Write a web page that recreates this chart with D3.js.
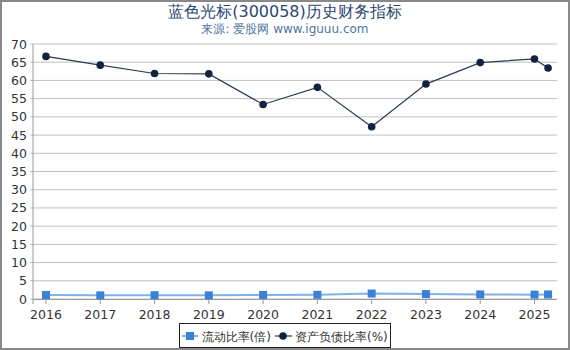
<!DOCTYPE html>
<html><head><meta charset="utf-8">
<script src="https://cdn.jsdelivr.net/npm/d3@7"></script>
<style>body{margin:0;background:#fff;font-family:"DejaVu Sans",sans-serif}</style>
</head><body><svg id="c" width="570" height="350"></svg>
<script>
const periods = [2016,2017,2018,2019,2020,2021,2022,2023,2024,2025,2025.25];
const currentRatio = [1.1,1.0,1.05,1.0,1.1,1.15,1.5,1.35,1.25,1.2,1.25];
const debtRatio = [66.6,64.2,61.9,61.8,53.4,58.1,47.3,59.0,64.9,65.9,63.4];
const xTicks = [2016,2017,2018,2019,2020,2021,2022,2023,2024,2025];
const yTicks = [0,5,10,15,20,25,30,35,40,45,50,55,60,65,70];

const svg = d3.select("#c");
const W=570,H=350;
svg.append("rect").attr("x",1).attr("y",1).attr("width",W-2).attr("height",H-2).attr("fill","#fff").attr("stroke","#888").attr("stroke-width",2);

svg.append("text").attr("x",285).attr("y",17).attr("text-anchor","middle").attr("font-size",16).attr("fill","#2b4a6f").text("蓝色光标(300058)历史财务指标");
svg.append("text").attr("x",285).attr("y",33).attr("text-anchor","middle").attr("font-size",12).attr("fill","#4f74a3").text("来源: 爱股网 www.iguuu.com");

const x = d3.scaleLinear().domain([2016,2025]).range([46,534.5]);
const y = d3.scaleLinear().domain([0,70]).range([299,44]);
const L=33,R=557;

const g = svg.append("g");
yTicks.forEach(t=>{
  g.append("line").attr("x1",L-3).attr("x2",R).attr("y1",y(t)).attr("y2",y(t)).attr("stroke","#c0c0c0").attr("stroke-width",1);
  g.append("text").attr("x",27).attr("y",y(t)+4.5).attr("text-anchor","end").attr("font-size",12.5).attr("fill","#333").text(t);
});
g.append("line").attr("x1",L).attr("x2",L).attr("y1",44).attr("y2",304).attr("stroke","#999");
g.append("line").attr("x1",L).attr("x2",R).attr("y1",y(0)+0.5).attr("y2",y(0)+0.5).attr("stroke","#999");
xTicks.forEach(t=>{
  g.append("line").attr("x1",x(t)).attr("x2",x(t)).attr("y1",299).attr("y2",304).attr("stroke","#999");
  g.append("text").attr("x",x(t)).attr("y",319).attr("text-anchor","middle").attr("font-size",12.5).attr("fill","#333").text(t);
});

const line = d3.line().x((d,i)=>x(periods[i])).y(d=>y(d));
g.append("path").datum(currentRatio).attr("d",line).attr("fill","none").attr("stroke","#7fb2ea").attr("stroke-width",2);
g.selectAll(".sq").data(currentRatio).join("rect").attr("x",(d,i)=>x(periods[i])-4).attr("y",d=>y(d)-4).attr("width",8).attr("height",8).attr("fill","#3a80d6");
g.append("path").datum(debtRatio).attr("d",line).attr("fill","none").attr("stroke","#2a3a52").attr("stroke-width",1.2);
g.selectAll(".ci").data(debtRatio).join("circle").attr("cx",(d,i)=>x(periods[i])).attr("cy",d=>y(d)).attr("r",3.8).attr("fill","#13233d");

// legend
const lg = svg.append("g");
lg.append("rect").attr("x",179.5).attr("y",323.5).attr("width",211).attr("height",24).attr("fill","#fff").attr("stroke","#222");
lg.append("line").attr("x1",182).attr("x2",198).attr("y1",336).attr("y2",336).attr("stroke","#7fb2ea").attr("stroke-width",2);
lg.append("rect").attr("x",186).attr("y",332).attr("width",8).attr("height",8).attr("fill","#3a80d6");
lg.append("text").attr("x",201.5).attr("y",341).attr("font-size",12).attr("fill","#333").text("流动比率(倍)");
lg.append("line").attr("x1",275).attr("x2",292).attr("y1",336).attr("y2",336).attr("stroke","#2a3a52").attr("stroke-width",1.2);
lg.append("circle").attr("cx",283).attr("cy",336).attr("r",3.8).attr("fill","#13233d");
lg.append("text").attr("x",295).attr("y",341).attr("font-size",12).attr("fill","#333").text("资产负债比率(%)");
</script></body></html>
